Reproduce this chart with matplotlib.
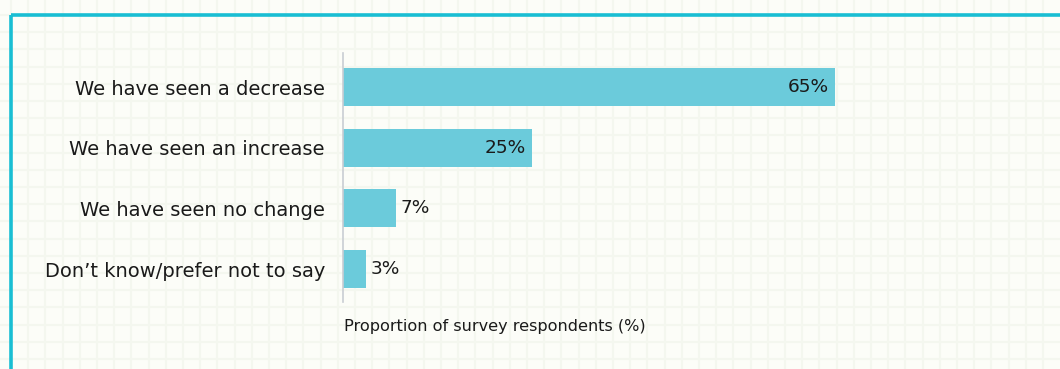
import numpy as np
import matplotlib.pyplot as plt
from matplotlib.patches import Rectangle

categories = ['We have seen a decrease', 'We have seen an increase',
              'We have seen no change', 'Don\u2019t know/prefer not to say']
values = [65, 25, 7, 3]
xlabel = 'Proportion of survey respondents (%)'

W, H = 1060, 369
fig = plt.figure(figsize=(W / 100, H / 100), dpi=100)
fig.patch.set_facecolor('#fcfdf8')

# graph-paper backdrop + cyan frame, drawn in pixel coordinates
bg = fig.add_axes([0, 0, 1, 1])
bg.set_xlim(0, W)
bg.set_ylim(H, 0)
bg.axis('off')
step = 17.2
for gx in np.arange(11, W, step):
    bg.axvline(gx, color='#f4f7ef', lw=1.5, zorder=0)
for gy in np.arange(15 - step, H, step):
    bg.axhline(gy, color='#f4f7ef', lw=1.5, zorder=0)
bg.add_patch(Rectangle((10.5, 15), W + 20, H, fill=False,
                       edgecolor='#19bed3', lw=2.6, zorder=1))

# bar chart
ax = fig.add_axes([343 / W, (H - 302) / H, 492 / W, 249 / H])
ax.patch.set_alpha(0)
y = np.arange(len(categories))
ax.barh(y, values, height=0.625, color='#6bcbdb')
ax.set_xlim(0, 65)
ax.set_ylim(3.54, -0.56)

for yi, v in zip(y, values):
    if v >= 20:
        ax.annotate(f'{v}%', (v, yi), xytext=(-6, 0), textcoords='offset pixels',
                    ha='right', va='center', fontsize=13.3, color='#1a1a1a')
    else:
        ax.annotate(f'{v}%', (v, yi), xytext=(5, 0), textcoords='offset pixels',
                    ha='left', va='center', fontsize=13.3, color='#1a1a1a')

ax.set_yticks(y)
ax.set_yticklabels(categories, fontsize=14, color='#1a1a1a')
ax.tick_params(axis='y', length=0, pad=13)
ax.set_xticks([])
for s in ['top', 'right', 'bottom']:
    ax.spines[s].set_visible(False)
ax.spines['left'].set_color('#c9cdd3')
ax.spines['left'].set_linewidth(1.2)

fig.text(344 / W, (H - 327) / H, xlabel, ha='left', va='center',
         fontsize=11.6, color='#1a1a1a')

fig.savefig('out.png', dpi=100, facecolor=fig.get_facecolor())
